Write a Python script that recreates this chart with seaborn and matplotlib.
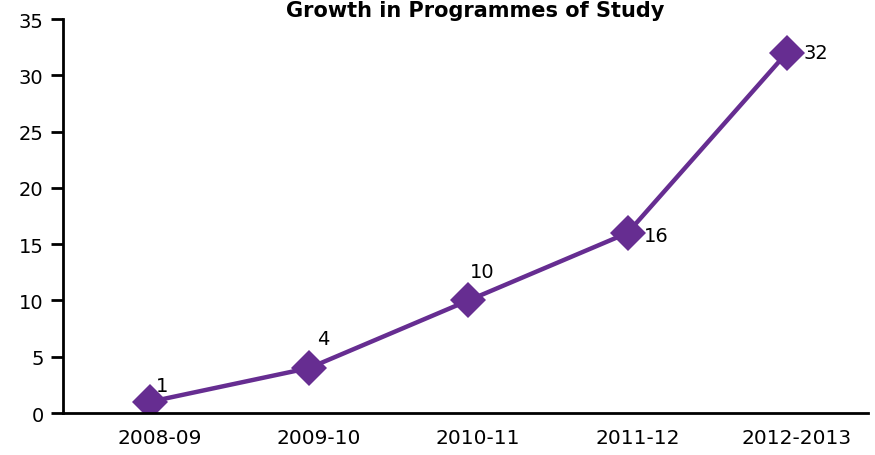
import matplotlib
matplotlib.use("Agg")
import matplotlib.pyplot as plt
import matplotlib.transforms as mtransforms
import seaborn as sns
import pandas as pd

# data
years = ['2008-09', '2009-10', '2010-11', '2011-12', '2012-2013']
programmes = [1, 4, 10, 16, 32]
# label offsets in points (dx, dy) for each value label
label_offsets = [(4, 12), (6, 21), (1, 21), (12, -2), (12, 0)]

df = pd.DataFrame({'pos': range(len(years)), 'Programmes': programmes})

sns.set_style('white')
plt.rcParams['font.family'] = ['DejaVu Sans']
plt.rcParams['text.color'] = 'black'
plt.rcParams['xtick.color'] = 'black'
plt.rcParams['ytick.color'] = 'black'

purple = '#662d91'

fig = plt.figure(figsize=(8.75, 4.56), dpi=100)
ax = fig.add_axes([0.072, 0.092, 0.92, 0.864])

sns.lineplot(data=df, x='pos', y='Programmes', color=purple, linewidth=3.2,
             marker='D', markersize=18, markeredgewidth=0, ax=ax)

for x, v, (dx, dy) in zip(df['pos'], programmes, label_offsets):
    ax.annotate(str(v), (x, v), xytext=(dx, dy), textcoords='offset points',
                fontsize=14, color='black', ha='left', va='center')

ax.set_xlim(-0.546, 4.51)
ax.set_ylim(0, 35)
ax.set_yticks(range(0, 36, 5))
ax.set_xticks(range(len(years)))
ax.set_xticklabels(years)
ax.set_xlabel('')
ax.set_ylabel('')

for s in ['top', 'right']:
    ax.spines[s].set_visible(False)
for s in ['left', 'bottom']:
    ax.spines[s].set_color('black')
    ax.spines[s].set_linewidth(2)

ax.tick_params(axis='y', direction='out', length=9, width=2, color='black',
               labelcolor='black', labelsize=14, pad=5, left=True)
ax.tick_params(axis='x', length=0, labelsize=14.5, labelcolor='black', pad=11)

# category labels sit a little right of the markers in the original
shift = mtransforms.ScaledTranslation(7 / 72, 0, fig.dpi_scale_trans)
for lab in ax.get_xticklabels():
    lab.set_transform(lab.get_transform() + shift)

fig.text(0.543, 0.998, 'Growth in Programmes of Study', ha='center', va='top',
         fontsize=15, fontweight='bold', color='black')

fig.savefig('out.png', dpi=100)
